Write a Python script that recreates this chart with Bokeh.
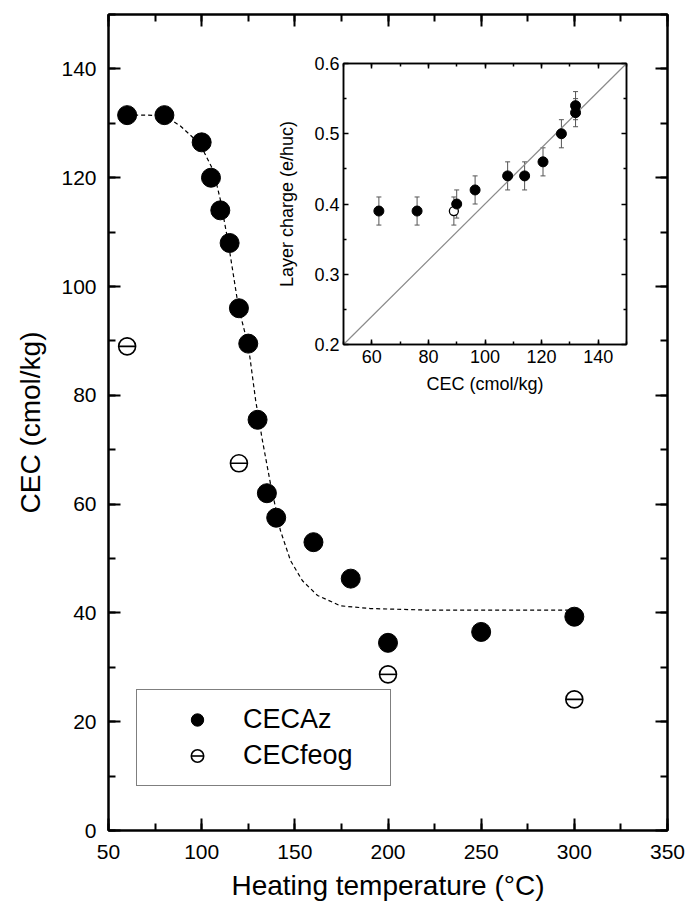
from bokeh.plotting import figure
from bokeh.models import (LinearAxis, SingleIntervalTicker, FixedTicker, CustomJSTickFormatter,
                          Legend, LegendItem, Whisker, TeeHead, ColumnDataSource)
from bokeh.embed import file_html
from bokeh.resources import INLINE

# --- CEC versus heating temperature ---
temp_az = [60, 80, 100, 105, 110, 115, 120, 125, 130, 135, 140, 160, 180, 200, 250, 300]
cec_az = [131.5, 131.5, 126.5, 120, 114, 108, 96, 89.5, 75.5, 62, 57.5, 53, 46.3, 34.5, 36.5, 39.3]

temp_feog = [60, 120, 200, 300]
cec_feog = [89, 67.5, 28.7, 24.1]

# sigmoidal fit through CECAz
fit_temp = [60, 70, 80, 88.6, 95.6, 101, 106.3, 110, 114.4, 119.8, 125.1, 129, 132.6,
            136.9, 142.3, 147.7, 154.1, 162.2, 174.5, 190.6, 222.8, 260, 300]
fit_cec = [131.5, 131.5, 131.4, 129.5, 127.3, 124.9, 121.3, 116, 107.8, 96.1, 89, 79, 71.7,
           63.8, 55.1, 49.6, 45.9, 43.2, 41.3, 40.8, 40.5, 40.5, 40.5]

# --- inset: layer charge versus CEC ---
cec_lc = [62.5, 76, 90, 96.5, 108, 114, 120.5, 127, 132, 132]
layer_charge = [0.39, 0.39, 0.40, 0.42, 0.44, 0.44, 0.46, 0.50, 0.53, 0.54]
lc_err = [0.02] * len(cec_lc)

cec_lc_open = [89]
layer_charge_open = [0.39]
lc_err_open = [0.02]

ref_cec = [50, 150]
ref_charge = [0.2, 0.6]

charge_ticks = [0.2, 0.3, 0.4, 0.5, 0.6]
charge_minor = [0.25, 0.35, 0.45, 0.55]

FONT = "Liberation Sans"


def style_axis(ax, size, tick_in, minor_in, lw):
    ax.axis_line_width = lw
    ax.major_tick_line_width = lw
    ax.minor_tick_line_width = lw
    ax.major_tick_in = tick_in
    ax.major_tick_out = 0
    ax.minor_tick_in = minor_in
    ax.minor_tick_out = 0
    ax.major_label_text_font = FONT
    ax.major_label_text_font_size = size
    ax.major_label_text_color = "black"
    ax.axis_label_text_font = FONT
    ax.axis_label_text_font_style = "normal"
    ax.axis_label_text_color = "black"


p = figure(width=689, height=920, x_range=(50, 350), y_range=(0, 150),
           output_backend="svg", toolbar_location=None,
           min_border_left=108, min_border_right=22, min_border_top=14, min_border_bottom=90,
           background_fill_color="white", border_fill_color="white")
p.grid.visible = False
p.outline_line_color = "black"
p.outline_line_width = 2

xt = SingleIntervalTicker(interval=50, num_minor_ticks=2)
yt = SingleIntervalTicker(interval=20, num_minor_ticks=2)
p.xaxis.ticker = xt
p.yaxis.ticker = yt
for ax in p.xaxis + p.yaxis:
    style_axis(ax, "21px", 12, 7, 2)
p.xaxis.axis_label = "Heating temperature (°C)"
p.yaxis.axis_label = "CEC (cmol/kg)"
p.xaxis.axis_label_text_font_size = "28px"
p.yaxis.axis_label_text_font_size = "28px"
p.xaxis.major_label_standoff = 14
p.xaxis.axis_label_standoff = 8
p.yaxis.major_label_standoff = 12
p.yaxis.axis_label_standoff = 12

blank = CustomJSTickFormatter(code="return ''")
top_ax = LinearAxis(ticker=xt, formatter=blank)
right_ax = LinearAxis(ticker=yt, formatter=blank)
for ax in (top_ax, right_ax):
    style_axis(ax, "1px", 12, 7, 2)
    ax.major_label_standoff = 0
p.add_layout(top_ax, "above")
p.add_layout(right_ax, "right")

p.line(fit_temp, fit_cec, line_color="black", line_width=1.2, line_dash="4 3")

r_az = p.scatter(temp_az, cec_az, size=19, marker="circle",
                 fill_color="black", line_color="black")
r_feog = p.scatter(temp_feog, cec_feog, size=17, marker="circle",
                   fill_color="white", line_color="black", line_width=1.6)
r_feog_bar = p.scatter(temp_feog, cec_feog, size=17, marker="dash",
                       line_color="black", line_width=1.6)

legend = Legend(items=[LegendItem(label="CECAz", renderers=[r_az]),
                       LegendItem(label="CECfeog", renderers=[r_feog, r_feog_bar])],
                location=(28, 44), padding=14, spacing=5,
                glyph_width=92, glyph_height=31, label_standoff=0, label_width=133,
                label_text_font=FONT, label_text_font_size="27px", label_height=20,
                label_text_color="black",
                border_line_color="black", border_line_width=1,
                background_fill_color="white", background_fill_alpha=1)
p.add_layout(legend, "center")

# --- inset figure ---
ins = figure(width=366, height=350, x_range=(50, 150), y_range=(0.2, 0.6),
             output_backend="svg", toolbar_location=None,
             min_border_left=73, min_border_right=10, min_border_top=13, min_border_bottom=56,
             background_fill_color="white", border_fill_color=None,
             styles={"position": "absolute", "left": "270px", "top": "50px"})
ins.grid.visible = False
ins.outline_line_color = "black"
ins.outline_line_width = 1.5

ixt = SingleIntervalTicker(interval=20, num_minor_ticks=2)
iyt = FixedTicker(ticks=charge_ticks, minor_ticks=charge_minor)
ins.xaxis.ticker = ixt
ins.yaxis.ticker = iyt
for ax in ins.xaxis + ins.yaxis:
    style_axis(ax, "18px", 5, 3, 1.5)
ins.xaxis.axis_label = "CEC (cmol/kg)"
ins.yaxis.axis_label = "Layer charge (e/huc)"
ins.xaxis.axis_label_text_font_size = "18px"
ins.yaxis.axis_label_text_font_size = "18px"
ins.xaxis.major_label_standoff = 5
ins.xaxis.axis_label_standoff = 8
ins.yaxis.major_label_standoff = 4
ins.yaxis.axis_label_standoff = 14

itop = LinearAxis(ticker=ixt, formatter=CustomJSTickFormatter(code="return ''"))
iright = LinearAxis(ticker=iyt, formatter=CustomJSTickFormatter(code="return ''"))
for ax in (itop, iright):
    style_axis(ax, "1px", 5, 3, 1.5)
    ax.major_label_standoff = 0
ins.add_layout(itop, "above")
ins.add_layout(iright, "right")

ins.line(ref_cec, ref_charge, line_color="#8a8a8a", line_width=1.2)

src = ColumnDataSource(data=dict(
    x=cec_lc, y=layer_charge,
    lo=[v - e for v, e in zip(layer_charge, lc_err)],
    hi=[v + e for v, e in zip(layer_charge, lc_err)]))
src_open = ColumnDataSource(data=dict(
    x=cec_lc_open, y=layer_charge_open,
    lo=[v - e for v, e in zip(layer_charge_open, lc_err_open)],
    hi=[v + e for v, e in zip(layer_charge_open, lc_err_open)]))

for s in (src, src_open):
    ins.add_layout(Whisker(source=s, base="x", upper="hi", lower="lo",
                           line_color="#555555", line_width=1,
                           upper_head=TeeHead(size=5, line_color="#555555", line_width=1),
                           lower_head=TeeHead(size=5, line_color="#555555", line_width=1)))

ins.scatter("x", "y", source=src_open, size=9, marker="circle",
            fill_color="white", line_color="black", line_width=1.3)
ins.scatter("x", "y", source=src, size=10, marker="circle",
            fill_color="black", line_color="black")

open("out.html", "w").write(file_html([p, ins], INLINE))
